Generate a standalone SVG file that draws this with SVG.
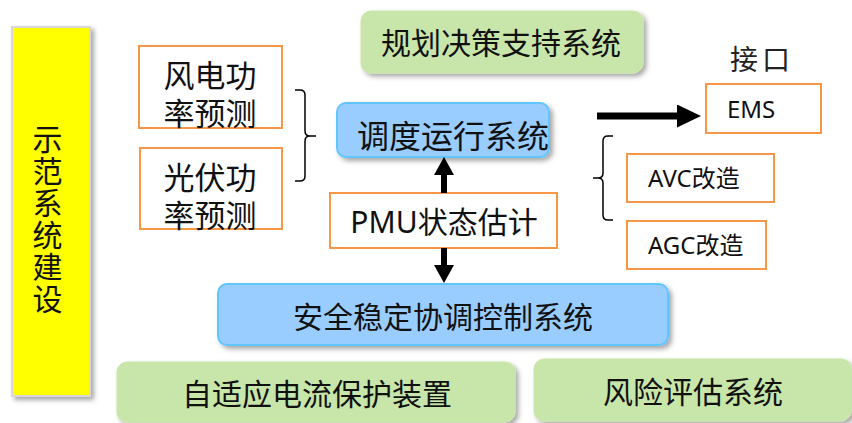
<svg xmlns="http://www.w3.org/2000/svg" width="852" height="423" viewBox="0 0 852 423">
<defs>
<filter id="sh" x="-10%" y="-10%" width="130%" height="130%">
<feDropShadow dx="3" dy="3" stdDeviation="2.5" flood-color="#000" flood-opacity="0.35"/>
</filter>
<marker id="av" markerWidth="20" markerHeight="20" refX="0" refY="10" orient="auto" markerUnits="userSpaceOnUse" viewBox="0 0 18 20">
<path d="M0,0 L18,10 L0,20 Z" fill="#000"/>
</marker>
<marker id="ah" markerWidth="24" markerHeight="23" refX="0" refY="11.5" orient="auto" markerUnits="userSpaceOnUse" viewBox="0 0 24 23">
<path d="M0,0 L24,11.5 L0,23 Z" fill="#000"/>
</marker>
<style>
text{font-family:"Noto Sans","Noto Sans CJK SC",sans-serif;fill:#111;dominant-baseline:central}
.green{fill:#C8E6AA;stroke:#C8E6AA;stroke-width:1;filter:url(#sh)}
.blue{fill:#99CCFF;stroke:#5FC6FF;stroke-width:2;filter:url(#sh)}
.orange{fill:#fff;stroke:#F79646;stroke-width:2}
.t30{font-size:30px}
.t32{font-size:32px}
.t24{font-size:24px}
.two{font-family:"Liberation Sans","Noto Sans CJK SC",sans-serif;font-size:31px}
.brace{fill:none;stroke:#000;stroke-width:1.5}
</style>
</defs>
<rect width="852" height="423" fill="#fff"/>

<g id="demo">
<rect x="12" y="27" width="78" height="369" fill="#FFFF00" stroke="#D8D8D8" stroke-width="2" filter="url(#sh)"/>
<text class="t30" x="46" y="124" style="writing-mode:vertical-rl;letter-spacing:2px">示范系统建设</text>
</g>

<g id="wind">
<rect class="orange" x="139" y="46" width="143" height="82"/>
<text class="two" text-anchor="middle"><tspan x="210" y="76">风电功</tspan><tspan x="210" y="114">率预测</tspan></text>
</g>

<g id="pv">
<rect class="orange" x="140" y="148" width="142" height="81"/>
<text class="two" text-anchor="middle"><tspan x="210" y="178">光伏功</tspan><tspan x="210" y="216">率预测</tspan></text>
</g>

<g id="planning">
<rect class="green" x="361" y="11" width="282" height="62" rx="10"/>
<text class="t30" x="501" y="42" text-anchor="middle">规划决策支持系统</text>
</g>

<g id="dispatch">
<rect class="blue" x="337" y="103" width="212" height="54" rx="9"/>
<text class="t32" x="357" y="135">调度运行系统</text>
</g>

<g id="pmu">
<rect class="orange" x="330" y="193" width="227" height="55"/>
<text class="t30" x="444" y="221" text-anchor="middle">PMU状态估计</text>
</g>

<g id="safety">
<rect class="blue" x="218" y="284" width="450" height="61" rx="9"/>
<text class="t30" x="443" y="316" text-anchor="middle">安全稳定协调控制系统</text>
</g>

<g id="adaptive">
<rect class="green" x="117" y="362" width="398" height="60" rx="10"/>
<text class="t30" x="317" y="393" text-anchor="middle">自适应电流保护装置</text>
</g>

<g id="risk">
<rect class="green" x="534" y="359" width="317" height="62" rx="10"/>
<text class="t30" x="693" y="391" text-anchor="middle">风险评估系统</text>
</g>

<g id="interface">
<text x="762" y="60" text-anchor="middle" style="font-family:'Liberation Serif','Noto Sans CJK SC',serif;font-size:28px;letter-spacing:4px;fill:#222">接口</text>
</g>

<g id="ems">
<rect class="orange" x="706" y="84" width="115" height="49"/>
<text class="t24" x="727" y="108">EMS</text>
</g>

<g id="avc">
<rect class="orange" x="627" y="154" width="147" height="48"/>
<text class="t24" x="648" y="177">AVC改造</text>
</g>

<g id="agc">
<rect class="orange" x="627" y="221" width="139" height="48"/>
<text class="t24" x="648" y="244">AGC改造</text>
</g>

<g id="connectors">
<path class="brace" d="M295,90 L300,90 Q305,90 305,95 L305,131 Q305,136 310,136 L316,136 M310,136 Q305,136 305,141 L305,176 Q305,181 300,181 L295,181"/>
<path class="brace" d="M613,136 L608,136 Q603,136 603,141 L603,173 Q603,178 598,178 L593,178 M598,178 Q603,178 603,183 L603,215 Q603,220 608,220 L613,220"/>
<line x1="444" y1="193" x2="444" y2="175" stroke="#000" stroke-width="6" marker-end="url(#av)"/>
<line x1="444" y1="248" x2="444" y2="265" stroke="#000" stroke-width="6" marker-end="url(#av)"/>
<line x1="597" y1="116" x2="677" y2="116" stroke="#000" stroke-width="7" marker-end="url(#ah)"/>
</g>
</svg>
